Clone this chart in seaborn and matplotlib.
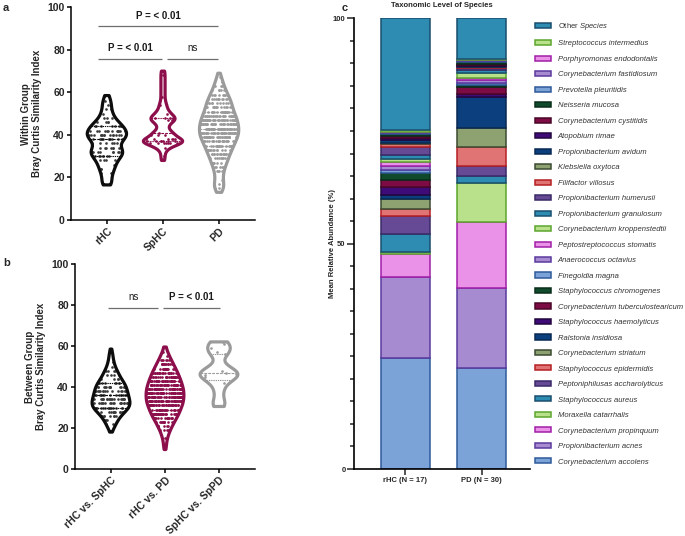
import numpy as np
import pandas as pd
import matplotlib
matplotlib.use("Agg")
import matplotlib.pyplot as plt
import seaborn as sns
from matplotlib.patches import Patch
from matplotlib.font_manager import FontProperties
from matplotlib.ticker import MultipleLocator

# ---------------- data ----------------
within_groups = ["rHC", "SpHC", "PD"]
between_groups = ["rHC vs. SpHC", "rHC vs. PD", "SpHC vs. SpPD"]

# Bray-Curtis similarity values (value, number of pairs at that value)
rhc_within_vals = [16.5, 18, 20, 22, 24, 26, 28, 30, 32, 34, 36, 38, 40, 42, 44, 46, 48, 50, 52, 54, 56, 58.5]
rhc_within_counts = [3, 3, 3, 4, 5, 6, 7, 10, 12, 9, 8, 12, 14, 13, 11, 8, 5, 4, 3, 3, 3, 2]

sphc_within_vals = [28, 30, 32, 34, 36, 37, 38, 40, 41, 43, 45, 47, 48, 50, 52, 54, 56, 58, 60, 62, 64, 66, 68, 70]
sphc_within_counts = [1, 1, 1, 3, 7, 7, 6, 4, 4, 2, 3, 5, 5, 4, 2, 2, 1, 1, 1, 1, 1, 1, 1, 1]

pd_within_vals = [13, 15, 17, 19, 21, 23, 25, 27, 29, 31, 33, 35, 37, 39, 41, 43, 45, 47, 49, 51,
                  53, 55, 57, 59, 61, 63, 65, 67, 69]
pd_within_counts = [5, 10, 10, 7, 8, 9, 12, 15, 18, 21, 25, 28, 32, 36, 38, 38, 37, 35, 32, 28,
                    26, 24, 21, 17, 13, 10, 7, 5, 2]

rhc_sphc_vals = [18, 20, 22, 24, 26, 28, 30, 32, 34, 36, 38, 40, 42, 44, 46, 48, 50, 52, 54, 56, 58.5]
rhc_sphc_counts = [1, 3, 5, 7, 10, 14, 18, 19, 18, 17, 16, 15, 13, 10, 8, 6, 4, 3, 2, 2, 1]

rhc_pd_vals = [9.5, 11, 13, 15, 17, 19, 21, 23, 25, 27, 29, 31, 33, 35, 37, 39, 41, 43, 45, 47,
               49, 51, 53, 55, 57, 59.5]
rhc_pd_counts = [2, 3, 4, 6, 9, 13, 18, 23, 29, 34, 38, 42, 45, 46, 46, 45, 42, 39, 35, 31,
                 26, 21, 16, 11, 7, 4]

sphc_sppd_vals = [30.5, 33, 38, 42, 44, 45, 46, 46.5, 47, 48, 50, 56, 57, 59, 61, 62]

# Stacked relative abundance (bottom -> top)
bar_groups = ["rHC (N = 17)", "PD (N = 30)"]
species = ["Corynebacterium accolens", "Propionibacterium acnes", "Corynebacterium propinquum",
           "Moraxella catarrhalis", "Staphylococcus aureus", "Peptoniphilusas accharolyticus",
           "Staphylococcus epidermidis", "Corynebacterium striatum", "Ralstonia insidiosa",
           "Staphylococcus haemolyticus", "Corynebacterium tuberculostearicum",
           "Staphylococcus chromogenes", "Finegoldia magna", "Anaerococcus octavius",
           "Peptostreptococcus stomatis", "Corynebacterium kroppenstedtii",
           "Propionibacterium granulosum", "Propionibacterium humerusii", "Filifactor villosus",
           "Klebsiella oxytoca", "Propionibacterium avidum", "Atopobium rimae",
           "Corynebacterium cystitidis", "Neisseria mucosa", "Prevotella pleuritidis",
           "Corynebacterium fastidiosum", "Porphyromonas endodontalis",
           "Streptococcus intermedius", "Other Species"]
rhc_abund = [24.66, 17.94, 5.18, 0.40, 3.90, 4.00, 1.70, 2.05, 0.90, 1.85, 1.50, 1.50, 0.73, 0.90,
             1.00, 0.65, 0.78, 1.70, 0.73, 0.30, 0.60, 0.50, 0.40, 0.40, 0.20, 0.20, 0.20, 0.30, 24.83]
pd_abund = [22.44, 17.80, 14.55, 8.70, 1.60, 2.20, 4.05, 4.30, 6.80, 0.70, 1.65, 0.45, 0.50, 0.55,
            0.45, 1.10, 0.75, 0.40, 0.15, 0.15, 0.15, 0.15, 0.20, 0.55, 0.20, 0.15, 0.15, 0.20, 8.96]

# ---------------- style ----------------
sns.set_theme(style="ticks")
plt.rcParams["font.family"] = ["Liberation Sans", "DejaVu Sans"]
plt.rcParams["font.weight"] = "bold"
plt.rcParams["axes.labelweight"] = "bold"
plt.rcParams["axes.titleweight"] = "bold"
plt.rcParams["mathtext.fontset"] = "custom"
plt.rcParams["mathtext.rm"] = "Liberation Sans:weight=normal:slant=normal"

BLACK = "#0d0d0d"
MAROON = "#8C0F4C"
GREY = "#9B9B9B"

cycle = [("#7BA3D8", "#2F5B9A"), ("#A68BD1", "#5A3A9E"), ("#E992E8", "#A21FA8"),
         ("#B9E08A", "#5CA52E"), ("#2E8BB2", "#1A4E6E"), ("#664A96", "#3A2A66"),
         ("#E07474", "#B52025"), ("#8DA270", "#3C4A32"), ("#0B3F7E", "#0A2A52"),
         ("#3E0B78", "#22063F"), ("#7E0C44", "#4A0628"), ("#0F4A2C", "#0A2E1C")]

W, H = 685, 536
fig = plt.figure(figsize=(W / 100, H / 100), dpi=100)


def px_axes(left, top, right, bottom):
    return fig.add_axes([left / W, 1 - bottom / H, (right - left) / W, (bottom - top) / H])


ax_a = px_axes(71, 7.3, 255, 220)
ax_b = px_axes(75, 264, 255, 469)
ax_c = px_axes(354, 18.3, 530, 469)


def violin_panel(ax, groups, data_list, colors, dot_colors, bws, width):
    for g, vals, c, dc, bw in zip(groups, data_list, colors, dot_colors, bws):
        df = pd.DataFrame({"group": g, "value": vals})
        n0 = len(ax.collections)
        l0 = len(ax.lines)
        sns.violinplot(data=df, x="group", y="value", order=groups, color=c, fill=False,
                       cut=0, bw_adjust=bw, inner="quart", width=width, linewidth=2.3,
                       density_norm="width", inner_kws=dict(linewidth=0.8), ax=ax)
        body = ax.collections[n0]
        body.set_zorder(3)
        for ln in ax.lines[l0:]:
            ln.set_zorder(3.5)
        n1 = len(ax.collections)
        sns.stripplot(data=df, x="group", y="value", order=groups, color=dc, size=1.9,
                      jitter=0.34, linewidth=0, ax=ax, zorder=2)
        for coll in ax.collections[n1:]:
            coll.set_clip_path(body.get_paths()[0], body.get_transform())


within_data = [np.repeat(rhc_within_vals, rhc_within_counts),
               np.repeat(sphc_within_vals, sphc_within_counts),
               np.repeat(pd_within_vals, pd_within_counts)]
violin_panel(ax_a, within_groups, within_data, [BLACK, MAROON, GREY],
             ["#3a3a3a", MAROON, GREY], [0.55, 0.4, 0.6], 0.7)

between_data = [np.repeat(rhc_sphc_vals, rhc_sphc_counts),
                np.repeat(rhc_pd_vals, rhc_pd_counts),
                np.array(sphc_sppd_vals)]
violin_panel(ax_b, between_groups, between_data, [BLACK, MAROON, GREY],
             ["#3a3a3a", MAROON, GREY], [0.6, 0.6, 0.5], 0.7)

for ax, xl, ylab in [(ax_a, (-0.64, 2.64), "Within Group\nBray Curtis Similarity Index"),
                     (ax_b, (-0.667, 2.667), "Between Group\nBray Curtis Similarity Index")]:
    sns.despine(ax=ax)
    ax.set_xlim(*xl)
    ax.set_ylim(0, 100)
    ax.set_yticks([0, 20, 40, 60, 80, 100])
    ax.tick_params(axis="both", length=3, width=1.1, labelsize=7.5, pad=1.5, color="black")
    for s in ["left", "bottom"]:
        ax.spines[s].set_linewidth(1.1)
        ax.spines[s].set_color("black")
    ax.set_xlabel("")
    ax.set_ylabel(ylab, fontsize=7, linespacing=1.15, labelpad=4)
    plt.setp(ax.get_xticklabels(), rotation=45, ha="right", rotation_mode="anchor")


def bracket(ax, x0, x1, y, text, ty):
    ax.plot([x0, x1], [y, y], color="#6e6e6e", lw=0.9, clip_on=False, solid_capstyle="butt")
    ax.text((x0 + x1) / 2, ty, text, ha="center", va="center", fontsize=7, color="#1a1a1a",
            fontweight="bold" if text != "ns" else "normal", clip_on=False)


bracket(ax_a, -0.153, 1.98, 91.3, "P = < 0.01", 96.0)
bracket(ax_a, -0.153, 0.977, 75.7, "P = < 0.01", 80.7)
bracket(ax_a, 1.066, 1.98, 75.7, "ns", 80.7)
bracket(ax_b, -0.05, 0.876, 78.7, "ns", 84.0)
bracket(ax_b, 0.968, 2.02, 78.7, "P = < 0.01", 84.0)

# ---------------- panel c: stacked bars ----------------
bottoms = np.zeros(2)
handles = []
for i, sp in enumerate(species):
    vals = np.array([rhc_abund[i], pd_abund[i]])
    fc, ec = cycle[i % 12]
    sns.barplot(x=bar_groups, y=vals, order=bar_groups, color=fc, saturation=1,
                edgecolor=ec, linewidth=1.1, width=0.645, bottom=bottoms.copy(),
                errorbar=None, ax=ax_c)
    bottoms += vals
    lab = "$\\mathrm{Other}$ Species" if sp == "Other Species" else sp
    handles.append(Patch(facecolor=fc, edgecolor=ec, linewidth=1.1, label=lab))

sns.despine(ax=ax_c)
ax_c.set_xlim(-0.67, 1.63)
ax_c.set_ylim(0, 100)
ax_c.set_yticks([0, 50, 100])
ax_c.yaxis.set_minor_locator(MultipleLocator(5))
ax_c.tick_params(axis="y", which="major", length=5, width=1.1, labelsize=5.5, pad=1)
ax_c.tick_params(axis="y", which="minor", length=3, width=1.1)
ax_c.tick_params(axis="x", length=4, width=1.1, labelsize=5.5, pad=2)
for s in ["left", "bottom"]:
    ax_c.spines[s].set_linewidth(1.2)
    ax_c.spines[s].set_color("black")
ax_c.set_xlabel("")
ax_c.set_ylabel("Mean Relative Abundance (%)", fontsize=5.5)
ax_c.yaxis.set_label_coords(-0.105, 0.5)
ax_c.set_title("Taxonomic Level of Species", fontsize=5.5, pad=8)

leg_font = FontProperties(family=["Liberation Sans", "DejaVu Sans"], style="italic",
                          weight="normal", size=5.5)
leg = fig.legend(handles=handles[::-1], loc="upper left", bbox_to_anchor=(535 / W, 1 - 21 / H),
                 frameon=False, prop=leg_font, handlelength=2.1, handleheight=0.65,
                 labelspacing=1.08, handletextpad=0.85, borderpad=0, borderaxespad=0)
for t in leg.get_texts():
    t.set_color("#333333")

fig.text(3 / W, 1 - 3 / H, "a", fontsize=8, fontweight="bold", va="top")
fig.text(3 / W, 1 - 258 / H, "b", fontsize=8, fontweight="bold", va="top")
fig.text(342 / W, 1 - 3 / H, "c", fontsize=8, fontweight="bold", va="top")

fig.savefig("out.png", dpi=100)
